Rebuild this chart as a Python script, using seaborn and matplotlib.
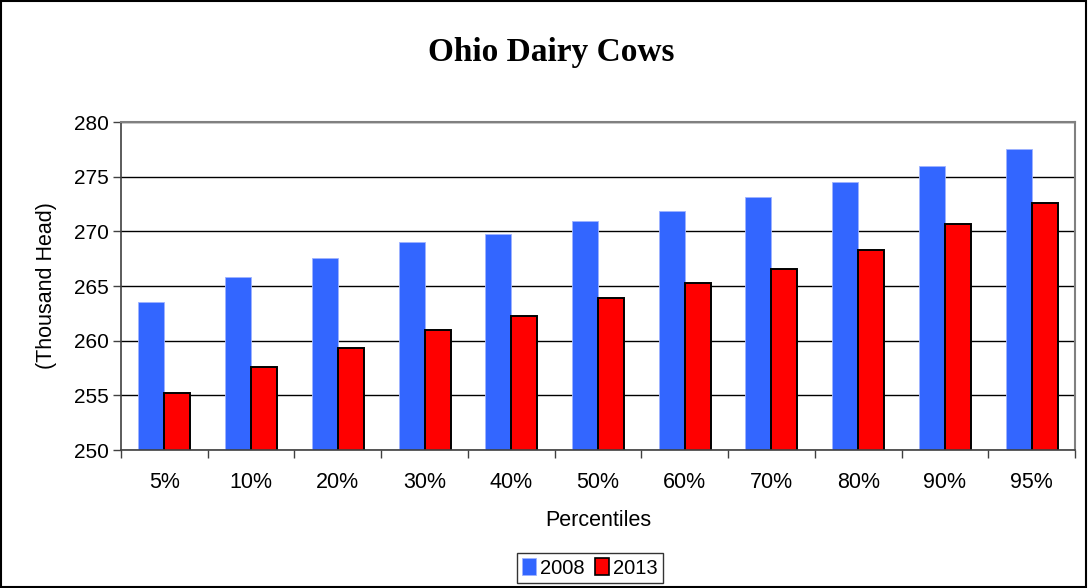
import matplotlib
matplotlib.use("Agg")
import matplotlib.pyplot as plt
import seaborn as sns
import pandas as pd
from matplotlib.patches import Patch, Rectangle

categories = ["5%", "10%", "20%", "30%", "40%", "50%", "60%", "70%", "80%", "90%", "95%"]
values_2008 = [263.5, 265.8, 267.6, 269.0, 269.8, 270.9, 271.9, 273.1, 274.5, 276.0, 277.5]
values_2013 = [255.2, 257.6, 259.3, 261.0, 262.3, 263.9, 265.3, 266.6, 268.3, 270.7, 272.6]
years = ["2008", "2013"]
colors = {"2008": "#3366FF", "2013": "#FF0000"}

df = pd.DataFrame({
    "Percentile": categories * 2,
    "Value": values_2008 + values_2013,
    "Year": [years[0]] * len(categories) + [years[1]] * len(categories),
})

sns.set_style("white")
plt.rcParams["font.family"] = ["Liberation Sans", "DejaVu Sans"]
plt.rcParams["text.color"] = "black"
plt.rcParams["axes.labelcolor"] = "black"
plt.rcParams["xtick.color"] = "black"
plt.rcParams["ytick.color"] = "black"

fig = plt.figure(figsize=(10.88, 5.88), dpi=100)
ax = fig.add_axes([121 / 1088, 1 - 450 / 588, (1075 - 121) / 1088, (450 - 122) / 588])

sns.barplot(data=df, x="Percentile", y="Value", hue="Year", order=categories,
            hue_order=years, palette=colors, width=0.6, ax=ax,
            saturation=1, errorbar=None, legend=False)

for bar in ax.containers[0]:
    bar.set_edgecolor("#9fb3ff")
    bar.set_linewidth(0.6)
for bar in ax.containers[1]:
    bar.set_edgecolor("black")
    bar.set_linewidth(1.4)

ax.set_ylim(250, 280)
ax.set_yticks(range(250, 281, 5))
ax.set_xlim(-0.5, len(categories) - 0.5)
ax.yaxis.grid(True, color="black", linewidth=1.0)
ax.set_axisbelow(True)

ax.tick_params(axis="x", which="major", length=0, pad=16, labelsize=15.5, labelcolor="black")
ax.set_xticks([i - 0.5 for i in range(len(categories) + 1)], minor=True)
ax.tick_params(axis="x", which="minor", length=6, width=1, color="#404040", direction="out")
ax.tick_params(axis="y", length=6, width=1, color="#404040", direction="out", labelsize=15,
               pad=3, labelcolor="black")
ax.tick_params(axis="both", which="both", bottom=True, left=True)

for side in ["left", "bottom"]:
    ax.spines[side].set_color("#404040")
    ax.spines[side].set_linewidth(1.2)
for side in ["top", "right"]:
    ax.spines[side].set_color("#808080")
    ax.spines[side].set_linewidth(1.5)
    ax.spines[side].set_visible(True)

ax.set_xlabel("Percentiles", fontsize=15.5, labelpad=12, color="black")
ax.set_ylabel("(Thousand Head)", fontsize=15.5, labelpad=12, color="black")

fig.text(551 / 1088, 1 - 52 / 588, "Ohio Dairy Cows", ha="center", va="center", color="black",
         fontsize=24, fontweight="bold", family=["Liberation Serif", "DejaVu Serif"])

handles = [Patch(facecolor=colors["2008"], edgecolor="#9fb3ff", linewidth=0.6, label="2008"),
           Patch(facecolor=colors["2013"], edgecolor="black", linewidth=1.2, label="2013")]
leg = fig.legend(handles=handles, loc="center", bbox_to_anchor=(590 / 1088, 1 - 568 / 588),
                 ncol=2, fontsize=14.5, frameon=True, fancybox=False, handlelength=0.7,
                 handleheight=0.9, handletextpad=0.2, columnspacing=0.5, borderpad=0.25,
                 borderaxespad=0)
leg.get_frame().set_edgecolor("black")
leg.get_frame().set_linewidth(1.0)

fig.patches.append(Rectangle((0.001, 0.001), 0.997, 0.997, transform=fig.transFigure,
                             fill=False, edgecolor="black", linewidth=1.5))

fig.savefig("out.png", dpi=100)
